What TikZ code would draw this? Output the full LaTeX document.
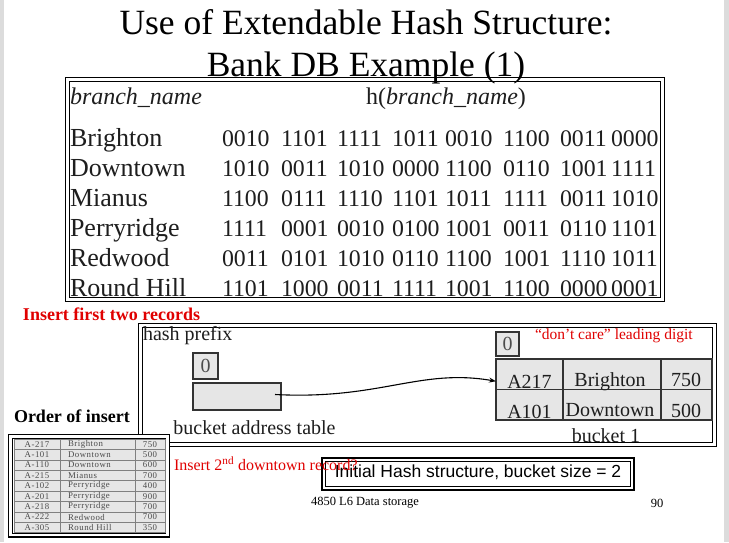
\documentclass[tikz,border=0pt]{standalone}
\usepackage{fontspec}
\setmainfont{Liberation Serif}
\setsansfont{Liberation Sans}
\usetikzlibrary{arrows.meta,calc}
\definecolor{cellgray}{HTML}{E6E6E6}
\definecolor{slred}{HTML}{E00000}
\definecolor{edgegray}{HTML}{DCDCDC}
\definecolor{ink}{HTML}{1E1E1E}
\definecolor{cellline}{HTML}{333333}
\newcommand{\fs}[1]{\fontsize{#1}{#1}\selectfont}
\newcommand{\dblbox}[4]{%
  \draw[outerline] (#1,#2) rectangle (#3,#4);
  \draw[innerline] ($(#1,#2)+(3.8,3.8)$) rectangle ($(#3,#4)+(-3.8,-3.8)$);}
\begin{document}
\begin{tikzpicture}[x=1pt,y=-1pt,
  every node/.style={inner sep=0pt, outer sep=0pt},
  outerline/.style={draw=black, line width=1.1pt},
  innerline/.style={draw=black, line width=0.7pt},
  booktext/.style={text=ink, font=\fs{26}},
  hashtext/.style={text=ink, font=\fs{23.8}, anchor=base west},
  cell/.style={draw=cellline, line width=1.6pt, fill=cellgray},
  celltext/.style={text=ink, font=\fs{20}},
  smallcell/.style={draw=gray, line width=0.6pt, fill=cellgray, anchor=north west},
  smalltext/.style={text=ink!80, font=\fs{8.8}\addfontfeature{LetterSpace=6}},
  redtext/.style={text=slred, font=\fs{15.5}}]
\useasboundingbox (0,0) rectangle (729,542);
\fill[white] (0,0) rectangle (729,542);
\fill[edgegray] (0,0) rectangle (4,542);
\fill[edgegray] (724,0) rectangle (729,542);

% hash table box
\dblbox{65.5}{77.5}{664.5}{301.5}
\node[font=\fs{35.5}, anchor=base] (t1) at (366,34) {Use of Extendable Hash Structure:};
\node[font=\fs{35.5}, anchor=base] (t2) at (366,76) {Bank DB Example (1)};

\node[text=ink, font=\fs{24}\itshape, anchor=base west] (hn) at (70,104) {branch\_name};
\node[text=ink, font=\fs{24}, anchor=base] (hh) at (446,104) {h(\textit{branch\_name})};

\foreach \nm/\hs [count=\r] in {
  Brighton/{0010,1101,1111,1011,0010,1100,0011,0000},
  Downtown/{1010,0011,1010,0000,1100,0110,1001,1111},
  Mianus/{1100,0111,1110,1101,1011,1111,0011,1010},
  Perryridge/{1111,0001,0010,0100,1001,0011,0110,1101},
  Redwood/{0011,0101,1010,0110,1100,1001,1110,1011},
  Round Hill/{1101,1000,0011,1111,1001,1100,0000,0001}} {
  \pgfmathsetmacro{\yb}{146+30*(\r-1)}
  \node[booktext, anchor=base west] (n\r) at (70,\yb) {\nm};
  \foreach \g [count=\c] in \hs {
    \pgfmathsetmacro{\xg}{{222,281,337,392,445,503,560,611}[\c-1]}
    \node[hashtext] (h\r-\c) at (\xg,\yb) {\g};
  }
}

% hash structure box
\dblbox{138.5}{323.5}{716.5}{446.5}
\node[redtext, font=\fs{18}\bfseries, anchor=west] (ins1) at (23,314) {Insert first two records};
\node[celltext, anchor=west] (hp) at (143,336) {hash prefix};
\node[cell, line width=1.4pt, minimum width=25, minimum height=26, font=\fs{20}, text=ink!80] (p0) at (205.5,366) {0};
\node[cell, line width=1.4pt, minimum width=88, minimum height=27] (bat) at (237,396.5) {};
\node[celltext] (batl) at (254.5,428) {bucket address table};

% bucket
\node[cell, line width=1.4pt, minimum width=23, minimum height=24, font=\fs{20}, text=ink!80] (b0) at (507.5,344) {0};
\node[redtext, anchor=base west] (dc) at (535,339) {“don’t care” leading digit};
\node[cell, anchor=north west, minimum width=67, minimum height=30.5] (c11) at (496,359) {};
\node[cell, anchor=north west, minimum width=98, minimum height=30.5] (c12) at (563,359) {};
\node[cell, anchor=north west, minimum width=51, minimum height=30.5] (c13) at (661,359) {};
\node[cell, anchor=north west, minimum width=67, minimum height=30.5] (c21) at (496,389.5) {};
\node[cell, anchor=north west, minimum width=98, minimum height=30.5] (c22) at (563,389.5) {};
\node[cell, anchor=north west, minimum width=51, minimum height=30.5] (c23) at (661,389.5) {};
\node[celltext, anchor=base] (t11) at (529.5,388) {A217};
\node[celltext, anchor=base] (t12) at (610,386) {Brighton};
\node[celltext, anchor=base] (t13) at (686,386) {750};
\node[celltext, anchor=base] (t21) at (529.5,418) {A101};
\node[celltext, anchor=base] (t22) at (610,416) {Downtown};
\node[celltext, anchor=base] (t23) at (686,417) {500};
\node[celltext] (b1) at (606,436) {bucket 1};

\coordinate (as) at ([xshift=-6pt,yshift=2pt]bat.east);
\coordinate (ae) at ([yshift=-7pt]c11.west);
\draw[-{Stealth[length=7pt,width=5pt]}, line width=1.1pt, black] (as) .. controls (380,400) and (420,368) .. (ae);

% order of insert
\node[font=\fs{18}\bfseries, anchor=west] (ord) at (14,416) {Order of insert};
\fill[white] (8,434) rectangle (170,537);
\dblbox{8.5}{434.5}{169.5}{537}
\foreach \a/\b/\c [count=\r] in {A-217/Brighton/750, A-101/Downtown/500, A-110/Downtown/600,
  A-215/Mianus/700, A-102/Perryridge/400, A-201/Perryridge/900, A-218/Perryridge/700,
  A-222/Redwood/700, A-305/Round Hill/350} {
  \pgfmathsetmacro{\yr}{439+10.4*(\r-1)}
  \node[smallcell, minimum width=46, minimum height=10.4] (sa\r) at (14,\yr) {};
  \node[smallcell, minimum width=75, minimum height=10.4] (sb\r) at (60,\yr) {};
  \node[smallcell, minimum width=30, minimum height=10.4] (sc\r) at (135,\yr) {};
  \node[smalltext] (ta\r) at (sa\r) {\a};
  \node[smalltext, anchor=west] (tb\r) at ([xshift=8pt]sb\r.west) {\b};
  \node[smalltext] (tc\r) at (sc\r) {\c};
}

% initial hash structure label
\node[draw=none, minimum width=312, minimum height=32] (init) at (478,474) {};
\dblbox{322}{458}{634}{490}
\node[font=\sffamily\fs{17.5}] (initl) at ([yshift=1.5pt]init.center) {Initial Hash structure, bucket size = 2};
\node[redtext, font=\fs{16}, anchor=west] (ins2) at (174,463.5) {Insert 2\textsuperscript{nd} downtown record?};

% footer
\node[font=\fs{12.5}] (foot) at (365,503) {4850 L6 Data storage};
\node[font=\fs{12.5}] (pg) at (657,503) {90};
\end{tikzpicture}
\end{document}
